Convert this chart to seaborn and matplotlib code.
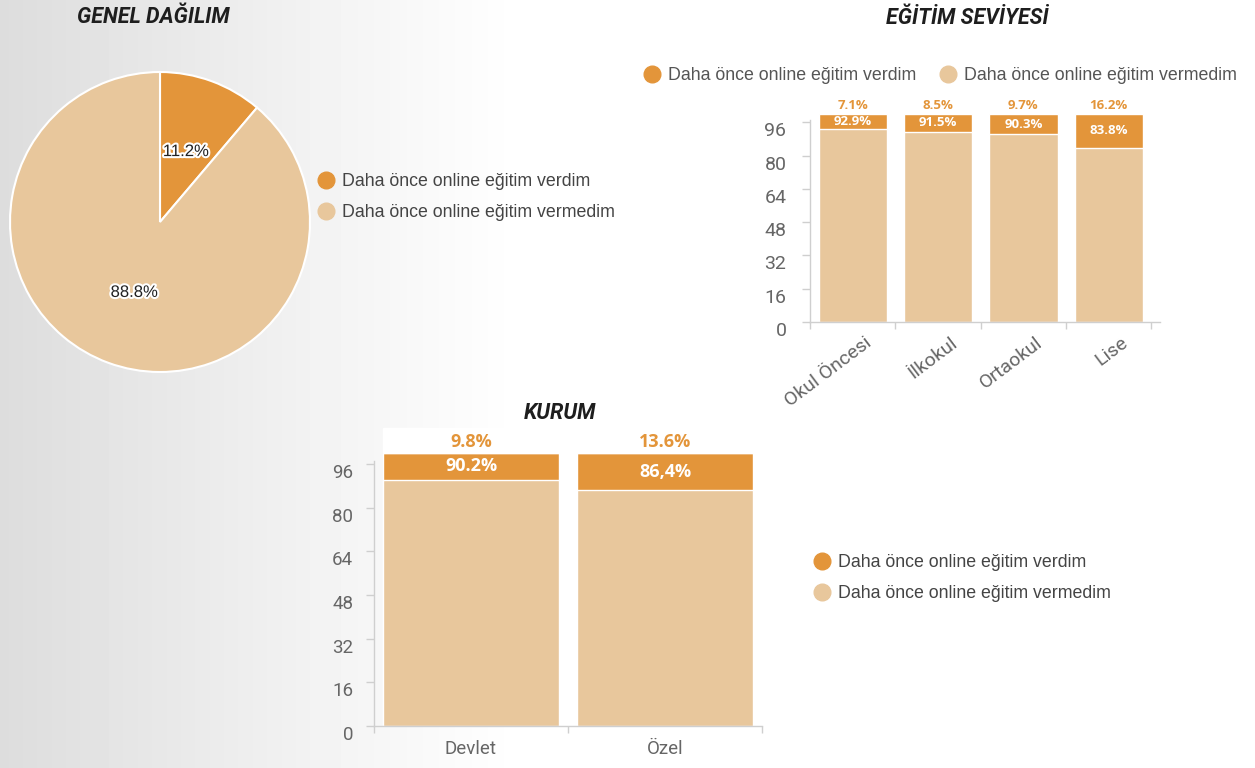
import numpy as np
import pandas as pd
import seaborn as sns
import matplotlib.pyplot as plt
import matplotlib.patheffects as pe
from matplotlib.lines import Line2D
from matplotlib.transforms import ScaledTranslation

# data
legend_labels = ["Daha önce online eğitim verdim", "Daha önce online eğitim vermedim"]
pie_values = [11.2, 88.8]

level_names = ["Okul Öncesi", "İlkokul", "Ortaokul", "Lise"]
level_gave = [7.1, 8.5, 9.7, 16.2]
level_not = [92.9, 91.5, 90.3, 83.8]

inst_names = ["Devlet", "Özel"]
inst_gave = [9.8, 13.6]
inst_not = [90.2, 86.4]
inst_not_text = ["90.2%", "86,4%"]

y_ticks = [0, 16, 32, 48, 64, 80, 96]

ORANGE = "#E3953A"
LIGHT = "#E8C79C"
TICK_GREY = "#cfcfcf"

sns.set_style("white")
plt.rcParams["font.family"] = ["Liberation Sans", "DejaVu Sans"]

W, H = 1255, 768
fig = plt.figure(figsize=(W / 100, H / 100), dpi=100)


def box(x0, y0, x1, y1):
    # pixel box (y measured from the top) -> figure fraction rect
    return [x0 / W, 1 - y1 / H, (x1 - x0) / W, (y1 - y0) / H]


def px(x, y):
    return x / W, 1 - y / H


# grey-to-white background
bg = fig.add_axes([0, 0, 1, 1], zorder=-10)
g = np.interp(np.arange(W), [0, 320, 520], [0.865, 0.952, 1.0])
bg.imshow(np.tile(g, (2, 1)), cmap="gray", vmin=0, vmax=1, aspect="auto", extent=[0, 1, 0, 1])
bg.axis("off")

title_kw = dict(family=["Liberation Sans Narrow", "Roboto", "DejaVu Sans"], weight="bold",
                style="italic", fontsize=15.5, color="#1e1e1e", ha="center", va="center")
fig.text(*px(153, 17), "GENEL DAĞILIM", **title_kw)
fig.text(*px(967, 18), "EĞİTİM SEVİYESİ", **title_kw)
fig.text(*px(560, 413), "KURUM", **title_kw)

handles = [Line2D([], [], marker="o", linestyle="", markersize=12, color=c) for c in (ORANGE, LIGHT)]
leg_kw = dict(frameon=False, handlelength=1.0, handletextpad=0.42, borderaxespad=0,
              prop={"family": ["Liberation Sans", "DejaVu Sans"], "size": 12.8})

# --- pie ---
ax_pie = fig.add_axes(box(7, 69, 313, 375))
wedges, texts, autotexts = ax_pie.pie(
    pie_values, colors=[ORANGE, LIGHT], startangle=90, counterclock=False,
    autopct="%.1f%%", pctdistance=0.5,
    wedgeprops=dict(edgecolor="white", linewidth=1.5))
for t in autotexts:
    t.set_color("#222222")
    t.set_fontsize(12)
    t.set_path_effects([pe.withStroke(linewidth=3, foreground="white")])
ax_pie.set_xlim(-1.02, 1.02)
ax_pie.set_ylim(-1.02, 1.02)

fig.legend(handles, legend_labels, loc="center left", bbox_to_anchor=px(310, 197),
           labelspacing=0.8, labelcolor="#444444", **leg_kw)


def style_bar_axes(ax, tick_pad, label_size):
    ax.set_facecolor("none")
    sns.despine(ax=ax)
    for s in ("left", "bottom"):
        ax.spines[s].set_color(TICK_GREY)
        ax.spines[s].set_linewidth(1)
    ax.spines["left"].set_bounds(0, 97)
    ax.set_ylim(0, 100)
    ax.set_yticks(y_ticks)
    ax.tick_params(axis="y", length=6, width=1, color=TICK_GREY, pad=tick_pad,
                   labelcolor="#666666", labelsize=label_size, left=True)
    ax.tick_params(axis="x", which="major", length=5, width=1, color=TICK_GREY, bottom=True)
    ax.tick_params(axis="x", which="minor", length=0, labelcolor="#666666", labelsize=label_size)
    for lab in ax.get_yticklabels():
        lab.set_family(["Roboto", "DejaVu Sans"])
        lab.set_transform(lab.get_transform() + ScaledTranslation(0, -0.07, fig.dpi_scale_trans))
    ax.set_xlabel("")
    ax.set_ylabel("")


# --- education level ---
ax1 = fig.add_axes(box(810, 114, 1160, 322))
df1 = pd.DataFrame({"level": level_names, "gave": level_gave, "not": level_not})
df1["total"] = df1["gave"] + df1["not"]
sns.barplot(data=df1, x="level", y="total", color=ORANGE, saturation=1, width=0.8, ax=ax1)
sns.barplot(data=df1, x="level", y="not", color=LIGHT, saturation=1, width=0.8, ax=ax1)
ax1.set_xlim(-0.5, 3.6)
style_bar_axes(ax1, tick_pad=11, label_size=14)
ax1.set_xticks([-0.5, 0.5, 1.5, 2.5, 3.5], [""] * 5)
ax1.set_xticks(range(len(level_names)), level_names, minor=True)
for lab in ax1.get_xticklabels(minor=True):
    lab.set_family(["Roboto", "DejaVu Sans"])
    lab.set_rotation(37)
    lab.set_ha("right")
    lab.set_va("center")
    lab.set_rotation_mode("anchor")
    lab.set_transform(lab.get_transform() + ScaledTranslation(0.17, -0.14, fig.dpi_scale_trans))

lab_kw = dict(family=["Open Sans", "DejaVu Sans"], weight="bold", ha="center", va="center")
for i, row in df1.iterrows():
    ax1.text(i, row["not"] + row["gave"] / 2, f"{row['not']}%", color="white", fontsize=9.5, **lab_kw)
    ax1.annotate(f"{row['gave']}%", xy=(i, row["total"]), xytext=(0, 6), textcoords="offset points",
                 color=ORANGE, fontsize=9.5, annotation_clip=False, **lab_kw)

fig.legend(handles, legend_labels, loc="center left", bbox_to_anchor=px(636, 76), ncol=2,
           columnspacing=1.25, labelcolor="#555555", **leg_kw)

# --- institution ---
ax2 = fig.add_axes(box(374, 453, 762, 726))
df2 = pd.DataFrame({"inst": inst_names, "gave": inst_gave, "not": inst_not})
df2["total"] = df2["gave"] + df2["not"]
sns.barplot(data=df2, x="inst", y="total", color=ORANGE, saturation=1, width=0.91, ax=ax2)
sns.barplot(data=df2, x="inst", y="not", color=LIGHT, saturation=1, width=0.91, ax=ax2)
ax2.set_xlim(-0.5, 1.5)
style_bar_axes(ax2, tick_pad=9, label_size=13.5)
ax2.set_xticks([-0.5, 0.5, 1.5], [""] * 3)
ax2.set_xticks(range(len(inst_names)), inst_names, minor=True)
ax2.tick_params(axis="x", which="minor", pad=10)
for lab in ax2.get_xticklabels(minor=True):
    lab.set_family(["Roboto", "DejaVu Sans"])

# white label boxes above the bars, as in the source
ax2.bar(range(len(inst_names)), [9] * len(inst_names), bottom=df2["total"], width=0.91,
        color="white", clip_on=False, zorder=1)
for i, row in df2.iterrows():
    ax2.text(i, row["not"] + row["gave"] / 2, inst_not_text[i], color="white", fontsize=13, **lab_kw)
    ax2.annotate(f"{row['gave']}%", xy=(i, row["total"]), xytext=(0, 8), textcoords="offset points",
                 color=ORANGE, fontsize=13, annotation_clip=False, zorder=3, **lab_kw)

fig.legend(handles, legend_labels, loc="center left", bbox_to_anchor=px(806, 578),
           labelspacing=0.8, labelcolor="#444444", **leg_kw)

fig.savefig("out.png", dpi=100)
